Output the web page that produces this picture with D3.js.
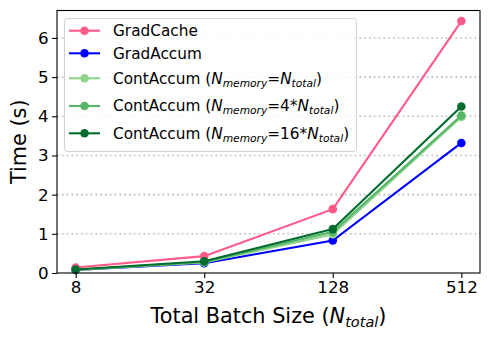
<!DOCTYPE html>
<html>
<head>
<meta charset="utf-8">
<script src="https://cdn.jsdelivr.net/npm/d3@7"></script>
<style>
  body { margin: 0; background: #fff; }
  text { font-family: "DejaVu Sans", sans-serif; fill: #000; }
</style>
</head>
<body>
<svg id="chart" width="490" height="340"></svg>
<script>
// Chart data
const batchSizes = [8, 32, 128, 512];
const yTicks = [0, 1, 2, 3, 4, 5, 6];
const gradCache = [0.14, 0.43, 1.63, 6.43];
const gradAccum = [0.08, 0.25, 0.83, 3.32];
const contAccum1 = [0.08, 0.27, 0.99, 3.98];
const contAccum4 = [0.08, 0.28, 1.05, 4.02];
const contAccum16 = [0.09, 0.30, 1.12, 4.25];

// legend label pieces: [text, style] where style: n = normal, i = italic, s = italic subscript
const seriesList = [
    { name: "GradCache", values: gradCache, color: "#ff5a8a", label: [["GradCache", "n"]] },
    { name: "GradAccum", values: gradAccum, color: "#0000ff", label: [["GradAccum", "n"]] },
    { name: "ContAccum1", values: contAccum1, color: "#8ed38e",
      label: [["ContAccum (", "n"], ["N", "i"], ["memory", "s"], ["=", "n"], ["N", "i"], ["total", "s"], [")", "n"]] },
    { name: "ContAccum4", values: contAccum4, color: "#56b567",
      label: [["ContAccum (", "n"], ["N", "i"], ["memory", "s"], ["=4*", "n"], ["N", "i"], ["total", "s"], [")", "n"]] },
    { name: "ContAccum16", values: contAccum16, color: "#006d2f",
      label: [["ContAccum (", "n"], ["N", "i"], ["memory", "s"], ["=16*", "n"], ["N", "i"], ["total", "s"], [")", "n"]] }
];

const svg = d3.select("#chart");
const plot = { left: 57, right: 480, top: 10.5, bottom: 273 };

// log2 x scale with matplotlib-like margins
const pad = 0.29;
const x = d3.scaleLog().base(2)
    .domain([Math.pow(2, Math.log2(8) - pad), Math.pow(2, Math.log2(512) + pad)])
    .range([plot.left, plot.right]);
const y = d3.scaleLinear().domain([0, 6.7]).range([plot.bottom, plot.top]);

// dotted horizontal grid
svg.append("g").selectAll("line")
    .data(yTicks.filter(d => d > 0))
    .join("line")
    .attr("x1", plot.left).attr("x2", plot.right)
    .attr("y1", d => y(d)).attr("y2", d => y(d))
    .attr("stroke", "#b8b8b8").attr("stroke-width", 1.6)
    .attr("stroke-dasharray", "1.6,3.2");

// series lines and markers
const line = d3.line().x((d, i) => x(batchSizes[i])).y(d => y(d));
seriesList.forEach(s => {
    const g = svg.append("g");
    g.append("path").attr("d", line(s.values))
        .attr("fill", "none").attr("stroke", s.color).attr("stroke-width", 2.1);
    g.selectAll("circle").data(s.values).join("circle")
        .attr("cx", (d, i) => x(batchSizes[i])).attr("cy", d => y(d))
        .attr("r", 4.3).attr("fill", s.color);
});

// axes
const xAxis = svg.append("g").attr("transform", `translate(0,${plot.bottom})`)
    .call(d3.axisBottom(x).tickValues(batchSizes).tickFormat(d3.format("d")).tickSizeOuter(0).tickSize(4.9).tickPadding(3.5));
const yAxis = svg.append("g").attr("transform", `translate(${plot.left},0)`)
    .call(d3.axisLeft(y).tickValues(yTicks).tickFormat(d3.format("d")).tickSizeOuter(0).tickSize(4.9).tickPadding(3.5));
[xAxis, yAxis].forEach(a => {
    a.select(".domain").remove();
    a.selectAll("line").attr("stroke", "#000").attr("stroke-width", 1.1);
    a.selectAll("text").style("font-family", "DejaVu Sans").style("font-size", "16.7px").attr("fill", "#000");
});

// frame
svg.append("rect")
    .attr("x", plot.left).attr("y", plot.top)
    .attr("width", plot.right - plot.left).attr("height", plot.bottom - plot.top)
    .attr("fill", "none").attr("stroke", "#000").attr("stroke-width", 1.1);

// axis titles
const xt = svg.append("text").attr("x", (plot.left + plot.right) / 2).attr("y", 323)
    .attr("text-anchor", "middle").style("font-size", "20.8px");
xt.append("tspan").text("Total Batch Size (");
xt.append("tspan").text("N").style("font-style", "italic");
xt.append("tspan").text("total").style("font-style", "italic").style("font-size", "14.5px").attr("dy", 4);
xt.append("tspan").text(")").attr("dy", -4);

svg.append("text")
    .attr("transform", `translate(26,${(plot.top + plot.bottom) / 2}) rotate(-90)`)
    .attr("text-anchor", "middle").style("font-size", "20.8px").text("Time (s)");

// legend
const legend = svg.append("g");
legend.append("rect")
    .attr("x", 64.5).attr("y", 18.5).attr("width", 292).attr("height", 133)
    .attr("rx", 3).attr("fill", "#fff").attr("fill-opacity", 0.85)
    .attr("stroke", "#d0d0d0").attr("stroke-width", 1);
const rowY = [30.7, 53.3, 78.3, 106, 133.3];
seriesList.forEach((s, i) => {
    const g = legend.append("g").attr("transform", `translate(0,${rowY[i]})`);
    g.append("line").attr("x1", 69).attr("x2", 100).attr("y1", 0).attr("y2", 0)
        .attr("stroke", s.color).attr("stroke-width", 2.1);
    g.append("circle").attr("cx", 84.5).attr("cy", 0).attr("r", 4.3).attr("fill", s.color);
    const t = g.append("text").attr("x", 113).attr("y", 5.4).style("font-size", "15.3px");
    let shifted = false;
    s.label.forEach(([txt, st]) => {
        const sp = t.append("tspan").text(txt);
        if (st === "i") sp.style("font-style", "italic");
        if (st === "s") {
            sp.style("font-style", "italic").style("font-size", "10.7px").attr("dy", 3);
            shifted = true;
        } else if (shifted) {
            sp.attr("dy", -3);
            shifted = false;
        }
    });
});
</script>
</body>
</html>
